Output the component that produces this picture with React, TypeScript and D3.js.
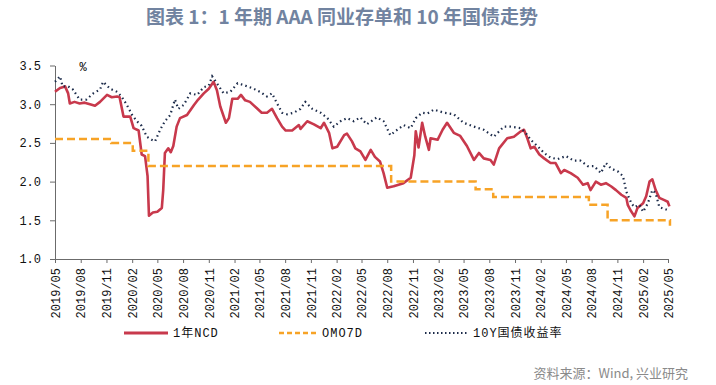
import React, { useRef, useEffect } from 'react';
import * as d3 from 'd3';

// 1年NCD (AAA 同业存单) 收益率
const ncdPoints: [string, number][] = [
  ['2019-05-01', 3.16], ['2019-05-19', 3.21], ['2019-06-06', 3.23], ['2019-06-17', 3.14],
  ['2019-06-23', 3.01], ['2019-07-10', 3.03], ['2019-07-28', 3.01], ['2019-08-15', 3.02],
  ['2019-09-03', 3.0], ['2019-09-21', 2.98], ['2019-10-09', 3.03], ['2019-11-03', 3.12],
  ['2019-11-20', 3.09], ['2019-12-09', 3.1], ['2019-12-18', 3.09],
  ['2020-01-01', 2.84], ['2020-01-25', 2.84], ['2020-02-06', 2.69], ['2020-02-24', 2.66],
  ['2020-03-06', 2.35], ['2020-03-18', 2.33], ['2020-03-27', 2.07], ['2020-04-01', 1.56],
  ['2020-04-15', 1.6], ['2020-05-01', 1.61], ['2020-05-17', 1.66], ['2020-05-22', 1.89],
  ['2020-05-28', 2.37], ['2020-06-09', 2.43], ['2020-06-18', 2.38], ['2020-06-27', 2.46],
  ['2020-07-09', 2.71], ['2020-07-21', 2.82], ['2020-08-15', 2.86], ['2020-09-09', 2.99],
  ['2020-09-24', 3.06], ['2020-10-14', 3.14], ['2020-11-01', 3.2], ['2020-11-18', 3.29],
  ['2020-11-30', 3.18], ['2020-12-12', 2.97], ['2021-01-01', 2.76], ['2021-01-12', 2.82],
  ['2021-01-24', 3.07], ['2021-02-12', 3.07], ['2021-02-24', 3.12], ['2021-03-11', 3.05],
  ['2021-03-28', 3.03], ['2021-04-21', 2.95], ['2021-05-09', 2.89], ['2021-05-28', 2.89],
  ['2021-06-15', 2.94], ['2021-07-03', 2.82], ['2021-07-21', 2.71], ['2021-08-03', 2.66],
  ['2021-08-26', 2.66], ['2021-09-19', 2.73], ['2021-09-25', 2.68], ['2021-10-19', 2.78],
  ['2021-11-12', 2.74], ['2021-12-06', 2.69], ['2021-12-18', 2.76], ['2022-01-05', 2.63],
  ['2022-01-17', 2.43], ['2022-02-03', 2.45], ['2022-02-28', 2.6], ['2022-03-10', 2.62],
  ['2022-03-28', 2.52], ['2022-04-09', 2.43], ['2022-04-27', 2.39], ['2022-05-15', 2.28],
  ['2022-06-03', 2.41], ['2022-06-18', 2.32], ['2022-07-06', 2.26], ['2022-07-19', 2.11],
  ['2022-08-01', 1.92], ['2022-08-24', 1.94], ['2022-09-28', 1.98], ['2022-10-24', 2.05],
  ['2022-11-06', 2.34], ['2022-11-11', 2.65], ['2022-11-21', 2.44], ['2022-12-04', 2.76],
  ['2022-12-15', 2.58], ['2022-12-28', 2.41], ['2023-01-03', 2.56], ['2023-01-28', 2.54],
  ['2023-02-15', 2.67], ['2023-03-03', 2.76], ['2023-03-27', 2.63], ['2023-04-19', 2.59],
  ['2023-05-13', 2.46], ['2023-06-07', 2.28], ['2023-06-25', 2.37], ['2023-07-12', 2.3],
  ['2023-08-05', 2.28], ['2023-08-17', 2.22], ['2023-09-05', 2.43], ['2023-10-04', 2.56],
  ['2023-10-28', 2.58], ['2023-11-22', 2.65], ['2023-12-03', 2.67], ['2023-12-15', 2.56],
  ['2023-12-27', 2.43], ['2024-01-09', 2.45], ['2024-01-27', 2.35], ['2024-02-13', 2.3],
  ['2024-03-07', 2.24], ['2024-03-25', 2.24], ['2024-04-13', 2.11], ['2024-04-25', 2.15],
  ['2024-05-18', 2.11], ['2024-06-12', 2.05], ['2024-07-01', 1.96], ['2024-07-18', 1.98],
  ['2024-07-28', 1.89], ['2024-08-16', 2.0], ['2024-09-03', 1.96], ['2024-09-21', 1.98],
  ['2024-10-09', 1.94], ['2024-10-27', 1.89], ['2024-11-15', 1.83], ['2024-12-03', 1.79],
  ['2024-12-08', 1.7], ['2024-12-18', 1.63], ['2025-01-01', 1.55], ['2025-01-12', 1.66],
  ['2025-02-01', 1.72], ['2025-02-12', 1.81], ['2025-02-24', 2.0], ['2025-03-06', 2.03],
  ['2025-03-18', 1.89], ['2025-03-31', 1.79], ['2025-04-18', 1.76], ['2025-04-30', 1.74],
  ['2025-05-06', 1.68],
];

// 公开市场 7 天逆回购利率
const omoPoints: [string, number][] = [
  ['2019-05-01', 2.55], ['2019-11-18', 2.5], ['2020-02-03', 2.4], ['2020-03-30', 2.2],
  ['2022-08-15', 2.0], ['2023-06-13', 1.9], ['2023-08-15', 1.8], ['2024-07-22', 1.7],
  ['2024-09-27', 1.5], ['2025-05-08', 1.43],
];

// 10Y 国债收益率
const cgbPoints: [string, number][] = [
  ['2019-05-01', 3.29], ['2019-05-19', 3.36], ['2019-05-28', 3.23], ['2019-06-17', 3.23],
  ['2019-07-04', 3.19], ['2019-07-28', 3.06], ['2019-08-21', 3.06], ['2019-09-15', 3.14],
  ['2019-10-09', 3.19], ['2019-10-20', 3.29], ['2019-11-14', 3.2], ['2019-12-09', 3.16],
  ['2019-12-25', 3.1], ['2020-01-13', 2.99], ['2020-02-01', 2.86], ['2020-02-18', 2.78],
  ['2020-03-06', 2.72], ['2020-03-24', 2.58], ['2020-04-11', 2.54], ['2020-04-23', 2.52],
  ['2020-05-11', 2.67], ['2020-05-28', 2.78], ['2020-06-16', 2.86], ['2020-07-03', 3.06],
  ['2020-07-15', 2.94], ['2020-08-03', 2.99], ['2020-08-27', 3.14], ['2020-09-20', 3.12],
  ['2020-10-14', 3.22], ['2020-11-01', 3.24], ['2020-11-13', 3.36], ['2020-11-30', 3.27],
  ['2020-12-24', 3.14], ['2021-01-17', 3.16], ['2021-02-12', 3.27], ['2021-03-04', 3.25],
  ['2021-04-10', 3.2], ['2021-05-03', 3.16], ['2021-05-28', 3.1], ['2021-06-15', 3.14],
  ['2021-07-03', 3.01], ['2021-07-21', 2.89], ['2021-08-08', 2.87], ['2021-09-01', 2.89],
  ['2021-09-25', 2.94], ['2021-10-12', 3.03], ['2021-11-06', 2.94], ['2021-12-06', 2.89],
  ['2021-12-30', 2.82], ['2022-01-22', 2.71], ['2022-02-15', 2.78], ['2022-03-10', 2.82],
  ['2022-04-03', 2.78], ['2022-04-27', 2.83], ['2022-05-20', 2.74], ['2022-06-25', 2.83],
  ['2022-07-19', 2.78], ['2022-08-12', 2.6], ['2022-09-06', 2.67], ['2022-09-29', 2.73],
  ['2022-10-24', 2.69], ['2022-11-11', 2.82], ['2022-12-04', 2.89], ['2022-12-23', 2.88],
  ['2023-01-15', 2.93], ['2023-02-20', 2.89], ['2023-03-27', 2.87], ['2023-05-01', 2.76],
  ['2023-06-07', 2.71], ['2023-07-12', 2.67], ['2023-08-17', 2.58], ['2023-09-22', 2.71],
  ['2023-10-15', 2.71], ['2023-11-22', 2.69], ['2023-12-09', 2.63], ['2023-12-27', 2.54],
  ['2024-01-20', 2.46], ['2024-02-13', 2.37], ['2024-03-07', 2.31], ['2024-04-01', 2.29],
  ['2024-05-01', 2.33], ['2024-05-29', 2.27], ['2024-06-22', 2.27], ['2024-07-18', 2.2],
  ['2024-08-10', 2.2], ['2024-09-03', 2.11], ['2024-09-21', 2.24], ['2024-10-09', 2.17],
  ['2024-11-03', 2.13], ['2024-11-21', 2.07], ['2024-12-03', 1.87], ['2024-12-21', 1.72],
  ['2025-01-01', 1.67], ['2025-01-19', 1.7], ['2025-02-01', 1.61], ['2025-02-18', 1.72],
  ['2025-03-06', 1.89], ['2025-03-18', 1.85], ['2025-03-31', 1.67], ['2025-04-24', 1.64],
  ['2025-05-06', 1.62],
];

const yTicks = [1.0, 1.5, 2.0, 2.5, 3.0, 3.5];
const xStart = '2019-05-01';
const xEnd = '2025-05-01';

const legendItems = [
  { label: '1年NCD', color: '#c8394c', dash: null, width: 3 },
  { label: 'OMO7D', color: '#f7a326', dash: '5,3', width: 2.5 },
  { label: '10Y国债收益率', color: '#1c2b4a', dash: '1.5,2.5', width: 2 },
];

const W = 716;
const H = 385;

export default function App() {
  const svgRef = useRef<SVGSVGElement>(null);

  useEffect(() => {
    const svg = d3.select(svgRef.current);
    svg.selectAll('*').remove();

    const parse = d3.timeParse('%Y-%m-%d');
    const x = d3.scaleTime()
      .domain([parse(xStart)!, parse(xEnd)!])
      .range([55, 668]);
    const y = d3.scaleLinear().domain([1, 3.5]).range([259, 65.5]);

    const toXY = (pts: [string, number][]) => pts.map(d => [parse(d[0])!, d[1]] as [Date, number]);
    const line = d3.line<[Date, number]>().x(d => x(d[0])).y(d => y(d[1]));

    // title
    svg.append('text')
      .attr('x', 342).attr('y', 24)
      .attr('text-anchor', 'middle')
      .style('font-family', '"Noto Sans CJK SC", "Noto Sans", sans-serif')
      .style('font-weight', 'bold')
      .style('font-size', '19px')
      .style('fill', '#7183a0')
      .text('图表 1：1 年期 AAA 同业存单和 10 年国债走势');

    // y axis
    const yAxis = svg.append('g')
      .attr('transform', 'translate(55,0)')
      .call(d3.axisLeft(y).tickValues(yTicks).tickSize(5).tickSizeOuter(0).tickPadding(9).tickFormat(d3.format('.1f')));
    yAxis.select('.domain').attr('stroke', '#6b6b6b');
    yAxis.selectAll('.tick line').attr('stroke', '#6b6b6b');
    yAxis.selectAll('text')
      .style('font-family', '"Liberation Mono", monospace')
      .style('font-size', '12px')
      .style('fill', '#111');

    // x axis
    const monthTicks = d3.timeMonth.range(x.domain()[0], d3.timeDay.offset(x.domain()[1], 1), 3);
    const xAxis = svg.append('g')
      .attr('transform', 'translate(0,259)')
      .call(d3.axisBottom(x).tickValues(monthTicks).tickSize(4).tickSizeOuter(0).tickFormat(d3.timeFormat('%Y/%m') as any));
    xAxis.select('.domain').attr('stroke', '#6b6b6b');
    xAxis.selectAll('.tick line').attr('stroke', '#6b6b6b');
    xAxis.selectAll('text')
      .attr('x', -9).attr('y', 0).attr('dy', '0.35em')
      .attr('transform', 'rotate(-90)')
      .style('text-anchor', 'end')
      .style('font-family', '"Liberation Mono", monospace')
      .style('font-size', '12px')
      .style('fill', '#111');

    // unit
    svg.append('text')
      .attr('x', 83).attr('y', 71)
      .attr('text-anchor', 'middle')
      .style('font-family', '"Liberation Mono", monospace')
      .style('font-size', '12px')
      .text('%');

    // series
    svg.append('path')
      .attr('d', line(toXY(ncdPoints)))
      .attr('fill', 'none')
      .attr('stroke', legendItems[0].color)
      .attr('stroke-width', 2.6)
      .attr('stroke-linejoin', 'round');

    svg.append('path')
      .attr('d', line.curve(d3.curveStepAfter)(toXY(omoPoints)))
      .attr('fill', 'none')
      .attr('stroke', legendItems[1].color)
      .attr('stroke-width', 2.5)
      .attr('stroke-dasharray', '8,4');
    line.curve(d3.curveLinear);

    svg.append('path')
      .attr('d', line(toXY(cgbPoints)))
      .attr('fill', 'none')
      .attr('stroke', legendItems[2].color)
      .attr('stroke-width', 2.2)
      .attr('stroke-dasharray', '1.5,3.2');

    // legend
    const legendX = [124, 279, 425];
    const legendLen = [44, 38, 43];
    legendItems.forEach((item, i) => {
      const g = svg.append('g').attr('transform', `translate(${legendX[i]},333)`);
      g.append('line')
        .attr('x1', 0).attr('x2', legendLen[i])
        .attr('y1', 0).attr('y2', 0)
        .attr('stroke', item.color)
        .attr('stroke-width', item.width)
        .attr('stroke-dasharray', item.dash);
      g.append('text')
        .attr('x', legendLen[i] + 5).attr('y', 0).attr('dy', '0.35em')
        .style('font-family', '"Liberation Mono", "Noto Sans CJK SC", monospace')
        .style('font-size', '12px')
        .style('letter-spacing', '1px')
        .style('fill', '#111')
        .text(item.label);
    });

    // source
    svg.append('text')
      .attr('x', 688).attr('y', 378)
      .attr('text-anchor', 'end')
      .style('font-family', '"Noto Sans CJK SC", "Noto Sans", sans-serif')
      .style('font-size', '13px')
      .style('fill', '#8a8a8a')
      .text('资料来源：Wind, 兴业研究');
  }, []);

  return (
    <svg
      ref={svgRef}
      width={W}
      height={H}
      style={{ position: 'absolute', left: 0, top: 0, background: '#fff' }}
    />
  );
}
